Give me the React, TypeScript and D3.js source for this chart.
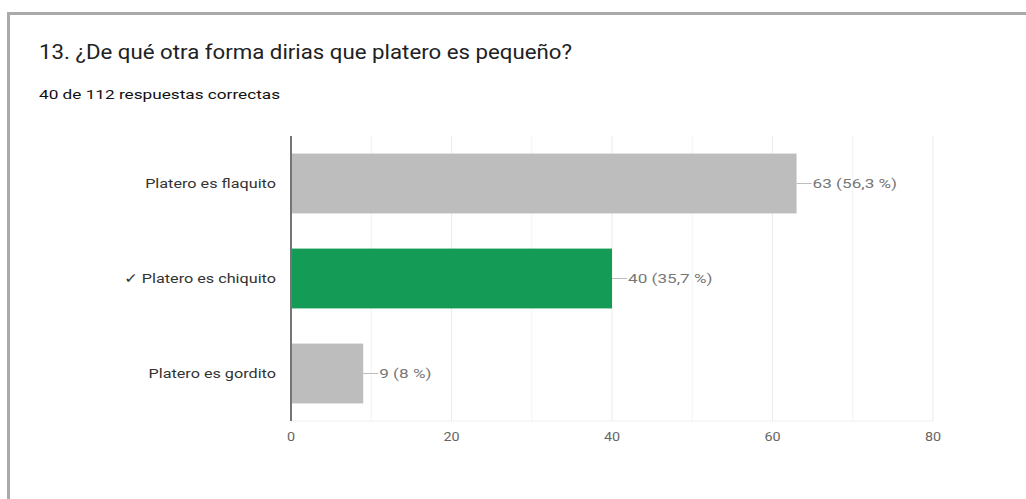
import React from "react";
import * as d3 from "d3";

const categories = ["Platero es flaquito", "✓ Platero es chiquito", "Platero es gordito"];
const counts = [63, 40, 9];
const valueLabels = ["63 (56,3 %)", "40 (35,7 %)", "9 (8 %)"];
const correct = [false, true, false];
const majorTicks = [0, 20, 40, 60, 80];
const minorTicks = [10, 30, 50, 70];
const titleText = "13. ¿De qué otra forma dirias que platero es pequeño?";
const subtitleText = "40 de 112 respuestas correctas";

const W = 1026;
const H = 499;
const FONT = "Roboto, Arial, sans-serif";

function SText(props: {
  x: number; y: number; sx: number; anchor?: string; size: number; fill: string; weight?: number; children: React.ReactNode;
}) {
  const { x, y, sx, anchor, size, fill, weight, children } = props;
  return (
    <text
      transform={`translate(${x},${y}) scale(${sx},1)`}
      textAnchor={anchor || "start"}
      dy="0.35em"
      fontFamily={FONT}
      fontSize={size}
      fontWeight={weight || 400}
      fill={fill}
    >
      {children}
    </text>
  );
}

export default function App() {
  const x = d3.scaleLinear().domain([0, 80]).range([291, 933]);
  const y = d3.scaleBand<string>().domain(categories).range([136, 421]).paddingInner(0.37).paddingOuter(0.185);

  return (
    <svg width={W} height={H} style={{ position: "absolute", left: 0, top: 0 }}>
      <rect x={0} y={0} width={W} height={H} fill="#fff" />
      <rect x={7} y={12} width={W - 7} height={3} fill="#aaaaaa" />
      <rect x={7} y={12} width={3} height={H - 12} fill="#aaaaaa" />

      <text x={39} y={59} fontFamily={FONT} fontSize={19.5} fill="#202124" textLength={533} lengthAdjust="spacingAndGlyphs">
        {titleText}
      </text>
      <text x={39} y={99} fontFamily={FONT} fontSize={13.5} fontWeight={400} fill="#111" textLength={241} lengthAdjust="spacingAndGlyphs">
        {subtitleText}
      </text>

      {minorTicks.map((t) => (
        <line key={"m" + t} x1={x(t)} x2={x(t)} y1={136} y2={421} stroke="#f3f3f3" strokeWidth={1} />
      ))}
      {majorTicks.map((t) => (
        <line key={"g" + t} x1={x(t)} x2={x(t)} y1={136} y2={421} stroke="#ebebeb" strokeWidth={1} />
      ))}
      <line x1={291} x2={933} y1={421} y2={421} stroke="#f0f0f0" strokeWidth={1} />

      {categories.map((c, i) => {
        const by = y(c)!;
        const bw = y.bandwidth();
        const x1 = x(counts[i]);
        const cy = by + bw / 2;
        return (
          <g key={c}>
            <rect x={x(0)} y={by} width={x1 - x(0)} height={bw} fill={correct[i] ? "#149c57" : "#bdbdbd"} />
            <line x1={x1} x2={x1 + 15} y1={cy} y2={cy} stroke="#bdbdbd" strokeWidth={1} />
            <SText x={x1 + 16} y={cy} sx={1.32} size={13} fill="#777">
              {valueLabels[i]}
            </SText>
            <SText x={276} y={cy} sx={1.2} size={13.5} anchor="end" fill="#333">
              {c}
            </SText>
          </g>
        );
      })}

      <line x1={291} x2={291} y1={136} y2={421} stroke="#757575" strokeWidth={2} />

      {majorTicks.map((t) => (
        <SText key={"t" + t} x={x(t)} y={437} sx={1.15} size={12.5} anchor="middle" fill="#666">
          {t}
        </SText>
      ))}
    </svg>
  );
}
